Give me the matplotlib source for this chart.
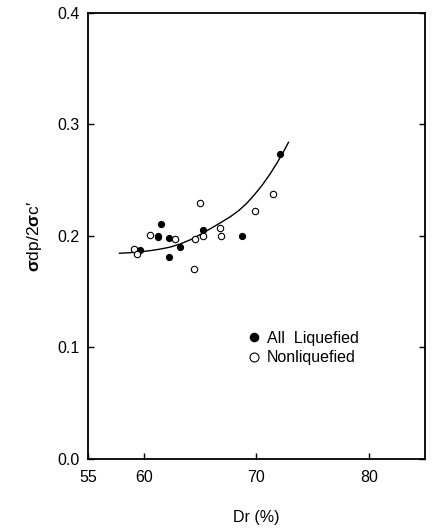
import matplotlib
matplotlib.use("Agg")
import matplotlib.pyplot as plt

plt.rcParams['font.family'] = ['Liberation Sans', 'DejaVu Sans']
plt.rcParams['mathtext.fontset'] = 'custom'
plt.rcParams['mathtext.rm'] = 'Liberation Sans'
plt.rcParams['mathtext.bf'] = 'Liberation Sans:bold'
plt.rcParams['mathtext.it'] = 'Liberation Sans:italic'

# Data
liq_x = [59.65, 61.2, 61.25, 61.5, 62.25, 62.2, 63.2, 65.24, 68.73, 72.07]
liq_y = [0.1876, 0.1990, 0.2000, 0.2107, 0.1978, 0.1810, 0.1897, 0.2050, 0.1996, 0.2735]

non_x = [59.1, 59.4, 60.47, 62.75, 64.5, 64.4, 65.0, 65.24, 66.75, 66.8, 69.9, 71.45]
non_y = [0.1880, 0.1840, 0.2008, 0.1970, 0.1970, 0.1700, 0.2298, 0.1996, 0.2074, 0.1996, 0.2226, 0.2380]

curve_x = [57.8, 58.7, 59.6, 60.5, 61.4, 62.3, 63.2, 64.2, 65.2, 66.4, 67.6, 68.4,
           69.1, 69.8, 70.5, 71.2, 71.8, 72.4, 72.85]
curve_y = [0.1845, 0.1850, 0.1858, 0.1868, 0.1882, 0.1900, 0.1928, 0.1970, 0.2025, 0.2095,
           0.2168, 0.2226, 0.2290, 0.2368, 0.2455, 0.2555, 0.2650, 0.2755, 0.2840]

xticks = [55, 60, 70, 80]
yticks = [0.0, 0.1, 0.2, 0.3, 0.4]

fig = plt.figure(figsize=(4.34, 5.30), dpi=100)
ax = fig.add_axes([0.203, 0.134, 0.776, 0.8415])

ax.plot(curve_x, curve_y, color='black', lw=1.0)
ax.plot(liq_x, liq_y, 'o', color='black', ms=4.2, label='All  Liquefied')
ax.plot(non_x, non_y, 'o', mfc='white', mec='black', mew=0.8, ms=4.6, label='Nonliquefied')

ax.set_xlim(55, 85)
ax.set_ylim(0.0, 0.4)
ax.set_xticks(xticks)
ax.set_yticks(yticks)
ax.set_yticklabels(['%.1f' % v for v in yticks])
ax.tick_params(direction='in', length=4, width=1, labelsize=11.5, right=True, top=False, pad=6)
ax.tick_params(axis='x', pad=8)
for s in ax.spines.values():
    s.set_linewidth(1.3)

ax.set_xlabel('Dr (%)', fontsize=11.5, labelpad=18)
ax.set_ylabel('$\\mathbf{\\sigma}$dp/2$\\mathbf{\\sigma}$c\u2032', fontsize=12.5, labelpad=10)

ax.legend(loc='upper left', bbox_to_anchor=(0.45, 0.302), frameon=False, fontsize=11.5,
          handletextpad=0.3, labelspacing=0.3, handlelength=1.0, borderaxespad=0,
          markerscale=1.4)

fig.savefig('out.png', dpi=100)
